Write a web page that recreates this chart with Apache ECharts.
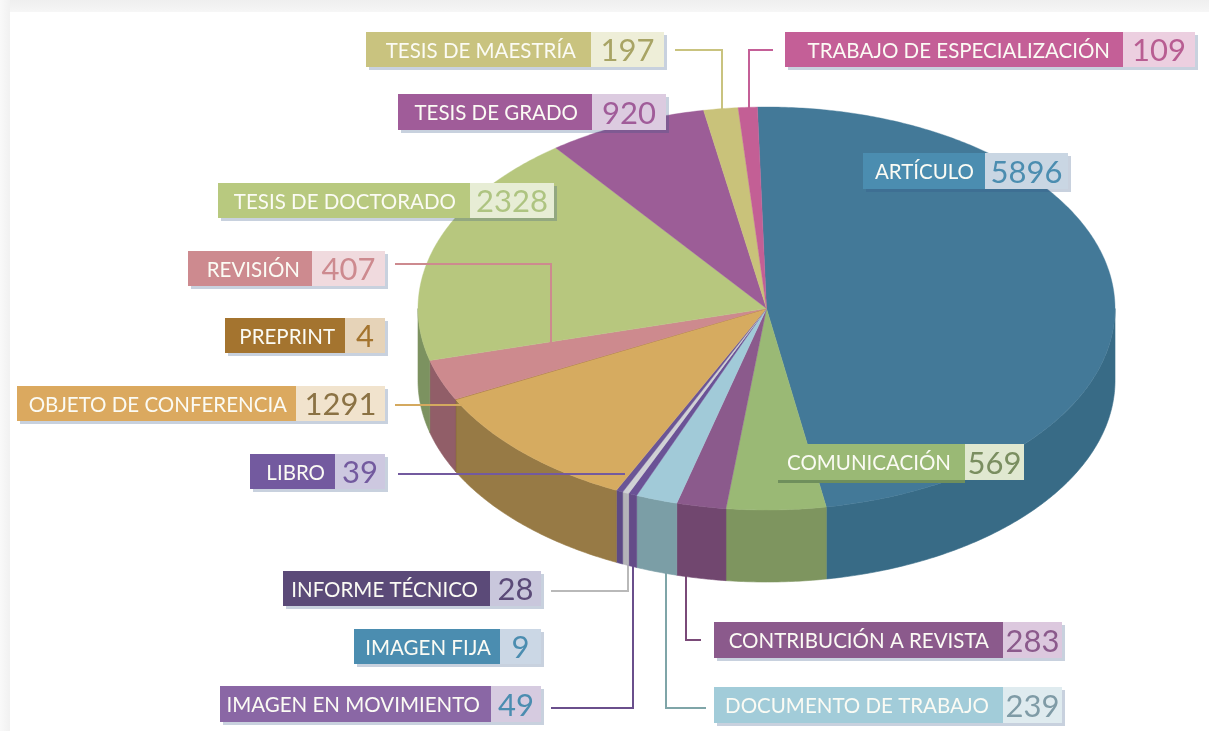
<!DOCTYPE html>
<html><head><meta charset="utf-8">
<style>html,body{margin:0;padding:0;background:#fff}#c{width:1209px;height:731px}</style>
<script src="https://cdn.jsdelivr.net/npm/echarts@6/dist/echarts.min.js"></script>
</head><body><div id="c"></div>
<script>
// ---- data (clockwise from the top of the pie) ----
const categories = ['ARTÍCULO','COMUNICACIÓN','CONTRIBUCIÓN A REVISTA','DOCUMENTO DE TRABAJO','IMAGEN EN MOVIMIENTO','IMAGEN FIJA','INFORME TÉCNICO','LIBRO','OBJETO DE CONFERENCIA','PREPRINT','REVISIÓN','TESIS DE DOCTORADO','TESIS DE GRADO','TESIS DE MAESTRÍA','TRABAJO DE ESPECIALIZACIÓN'];
const values = [5896,569,283,239,49,9,28,39,1291,4,407,2328,920,197,109];

// ---- styles ----
const topColors  = ['#437998','#9ab975','#8b5a8c','#a1cad8','#6a5296','#cfd0d4','#cfd0d4','#6b5596','#d6ab60','#a4742f','#cd8a8e','#b7c77e','#9c5d97','#c9c27a','#c35f95'];
const sideColors = ['#386b86','#7e955f','#71476f','#7b9ea6','#644c88','#b4b4b8','#b4b4b8','#5d4a85','#977a45','#7a5a30','#915e68','#7c9260','#7a4a78','#9a9560','#96497a'];
const nameFill = ['#4b8db0','#9ab975','#8b5a8c','#a2ccd9','#8a67a5','#4b8db0','#5b4a78','#735a9f','#dba95f','#a4742f','#cd8a8f','#b8c97f','#a05c99','#c9c37f','#c45f97'];
const cellFill = ['#c9d6e3','#e0e8d0','#dcc8de','#dfebef','#d6cbe0','#cbd7e5','#c9c7dc','#cdc8e0','#f1e3cd','#e6d3b8','#f0dade','#e7edd5','#dccbe0','#eeeed8','#eccfe0'];
const numFill  = ['#4b8db0','#7a8e60','#8b5a8c','#7f9ba6','#4b8db0','#4b8db0','#5b4a78','#735a9f','#8b7244','#a4742f','#cd8a8f','#aec481','#a05c99','#a8a465','#b85d92'];
const leadColor = ['','','#7a4a78','#7fa5a8','#6a4f8c','','#b9b9b9','#735a9f','#d4a95f','','#cd8a8f','','','#c9c37f','#c45f97'];
const SHADOW = 'rgba(52,84,134,0.27)';
const COM_SHADOW = '#6f8f5c';

// ---- layout ----
const PIE = {cx:766.5, cy:308.5, rx:348.5, ry:201.5, depth:72, startDeg:-1.5};
// label box: x0, split, x1, y0, y1, right end of name text
const boxes = [
 [863,985,1068,153,189,974],[778,965,1024,444,480,951],[714,1003,1062,622,658,989],[714,1003,1062,687,723,989],
 [220,491,541,686,722,480],[354,500,541,629,664,491],[283,490,541,571,606,478],[250,335,385,454,489,325],
 [17,296,385,386,421,287],[225,345,385,318,353,335],[188,312,385,251,286,300],[218,470,554,183,218,456],
 [398,592,666,94,130,578],[366,591,664,32,67,576],[785,1123,1195,32,67,1110]];
const leaders = {
 2:[[686,574],[686,640],[701,640]], 3:[[666,570],[666,708],[706,708]], 4:[[551,708],[633,708],[633,564]],
 6:[[551,591],[628,591],[628,564]], 7:[[398,474],[625,474]], 8:[[395,405],[463,405]],
 10:[[395,264],[551,264],[551,343]], 13:[[675,50],[722,50],[722,110]], 14:[[773,50],[749,50],[749,110]]};

const total = values.reduce((a,b)=>a+b,0);
const starts = []; values.reduce((acc,v,i)=>{starts[i]=acc;return acc+v;},0);
const toRad = v => (PIE.startDeg + v/total*360)*Math.PI/180;
const pt = (t,dy) => [PIE.cx+PIE.rx*Math.sin(t), PIE.cy-PIE.ry*Math.cos(t)+(dy||0)];
function arc(a,b,dy){const n=Math.max(2,Math.ceil((b-a)/0.01));const r=[];for(let k=0;k<=n;k++)r.push(pt(a+(b-a)*k/n,dy));return r;}

function renderSide(params,api){
  const i=api.value(0), a=toRad(starts[i]), b=toRad(starts[i]+api.value(1));
  const lo=Math.max(a,Math.PI/2), hi=Math.min(b,Math.PI*1.5);
  if(hi<=lo) return {type:'group',children:[]};
  const pts=arc(lo,hi,0).concat(arc(lo,hi,PIE.depth).reverse());
  return {type:'polygon',shape:{points:pts},style:{fill:sideColors[i],stroke:sideColors[i],lineWidth:0.6}};
}
function renderTop(params,api){
  const i=api.value(0), a=toRad(starts[i]), b=toRad(starts[i]+api.value(1));
  const pts=[[PIE.cx,PIE.cy]].concat(arc(a,b,0));
  return {type:'polygon',shape:{points:pts},style:{fill:topColors[i],stroke:topColors[i],lineWidth:0.4}};
}
function renderLeader(params,api){
  const i=api.value(0), p=leaders[i];
  if(!p) return {type:'group',children:[]};
  return {type:'polyline',shape:{points:p},style:{fill:'none',stroke:leadColor[i],lineWidth:2}};
}
function renderLabel(params,api){
  const i=api.value(0), [x0,xs,x1,y0,y1,tr]=boxes[i], h=y1-y0, ym=(y0+y1)/2+1.5;
  const isCom = i===1;
  return {type:'group',children:[
    {type:'rect',shape:isCom?{x:x0,y:y0+3,width:xs-x0,height:h}:{x:x0+3,y:y0+3,width:x1-x0,height:h},style:{fill:isCom?COM_SHADOW:SHADOW}},
    {type:'rect',shape:{x:x0,y:y0,width:xs-x0,height:h},style:{fill:nameFill[i]}},
    {type:'rect',shape:{x:xs,y:y0,width:x1-xs,height:h},style:{fill:cellFill[i]}},
    {type:'text',style:{text:categories[i],x:tr,y:ym,align:'right',verticalAlign:'middle',fill:'#fbfbf4',font:'400 20.5px Lato, "Open Sans", sans-serif'}},
    {type:'text',style:{text:String(api.value(1)),x:(xs+x1)/2,y:ym,align:'center',verticalAlign:'middle',fill:numFill[i],font:'400 31px Lato, "Open Sans", sans-serif'}}
  ]};
}
const seriesData = values.map((v,i)=>[i,v]);
const custom = (render,z) => ({type:'custom',coordinateSystem:'none',renderItem:render,data:seriesData,z,silent:true,animation:false,clip:false});

const chart = echarts.init(document.getElementById('c'),null,{width:1209,height:731});
chart.setOption({
  animation:false,
  backgroundColor:'#ffffff',
  graphic:[
    {type:'rect',z:0,shape:{x:0,y:0,width:1209,height:12},style:{fill:{type:'linear',x:0,y:0,x2:0,y2:1,colorStops:[{offset:0,color:'#efefef'},{offset:1,color:'#f6f6f6'}]}}},
    {type:'rect',z:0,shape:{x:0,y:0,width:10,height:731},style:{fill:{type:'linear',x:0,y:0,x2:1,y2:0,colorStops:[{offset:0,color:'#f9f9f9'},{offset:1,color:'#f1f1f1'}]}}}
  ],
  series:[custom(renderLeader,1),custom(renderSide,2),custom(renderTop,3),
    Object.assign(custom(renderLeader,4),{data:seriesData.filter(d=>[7,8,10].includes(d[0]))}),
    custom(renderLabel,5)]
});
</script></body></html>
